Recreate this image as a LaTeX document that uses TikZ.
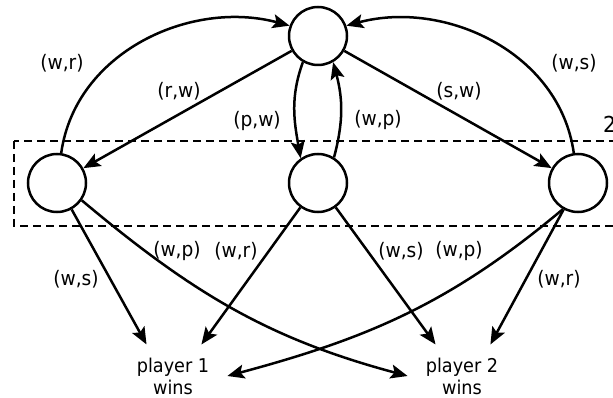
\documentclass[tikz,border=0pt]{standalone}
\usepackage{fontspec}
\setmainfont[FakeStretch=0.93]{DejaVu Sans}
\usetikzlibrary{arrows.meta}
\begin{document}
\begin{tikzpicture}[x=1pt,y=1pt,
  state/.style={circle,draw,line width=2.5pt,minimum size=58pt,inner sep=0pt},
  edge/.style={line width=2.5pt,-{Stealth[length=17pt,width=14pt,inset=3.5pt]}},
  lbl/.style={font=\fontsize{20}{22}\selectfont,inner sep=0pt},
  win/.style={align=center,font=\fontsize{19}{22}\selectfont,inner xsep=18pt,inner ysep=13pt}]
\useasboundingbox (0,0) rectangle (613,-398);
\draw[line width=2.5pt,dash pattern=on 8pt off 5pt] (14,-141) rectangle (640,-226);
\node[font=\fontsize{22}{24}\selectfont,inner sep=0pt,anchor=west] (two) at (603,-124) {2};
\node[state] (t) at (318,-36) {};
\node[state] (l) at (57,-183) {};
\node[state] (m) at (318,-183) {};
\node[state] (r) at (578,-183) {};
\node[win] (p1) at (173,-376) {player 1\\wins};
\node[win] (p2) at (462,-376) {player 2\\wins};
% edges
\draw[edge] (t) -- (l);
\draw[edge] (t) -- (r);
\draw[edge] (l.82) to[out=82,in=165] (t.160);
\draw[edge] (r.98) to[out=98,in=15] (t.20);
\draw[edge] (t.240) to[out=250,in=100] (m.125);
\draw[edge] (m.58) to[out=75,in=285] (t.300);
\draw[edge] (l) -- (p1.130);
\draw[edge] (m) -- (p1.48);
\draw[edge] (m) -- (p2.130);
\draw[edge] (r) -- (p2.48);
\draw[edge] (l.-35) to[out=-40,in=165] (p2.west);
\draw[edge] (r.-120) to[out=-140,in=15] (p1.east);
% labels
\node[lbl] (e1) at (62,-63) {(w,r)};
\node[lbl] (e2) at (179,-91) {(r,w)};
\node[lbl] (e3) at (257,-121) {(p,w)};
\node[lbl] (e4) at (378,-120) {(w,p)};
\node[lbl] (e5) at (459,-91) {(s,w)};
\node[lbl] (e6) at (574,-63) {(w,s)};
\node[lbl] (e7) at (76,-279) {(w,s)};
\node[lbl] (e8) at (177,-251) {(w,p)};
\node[lbl] (e9) at (236,-251) {(w,r)};
\node[lbl] (e10) at (401,-251) {(w,s)};
\node[lbl] (e11) at (459,-251) {(w,p)};
\node[lbl] (e12) at (559,-279) {(w,r)};
\end{tikzpicture}
\end{document}
